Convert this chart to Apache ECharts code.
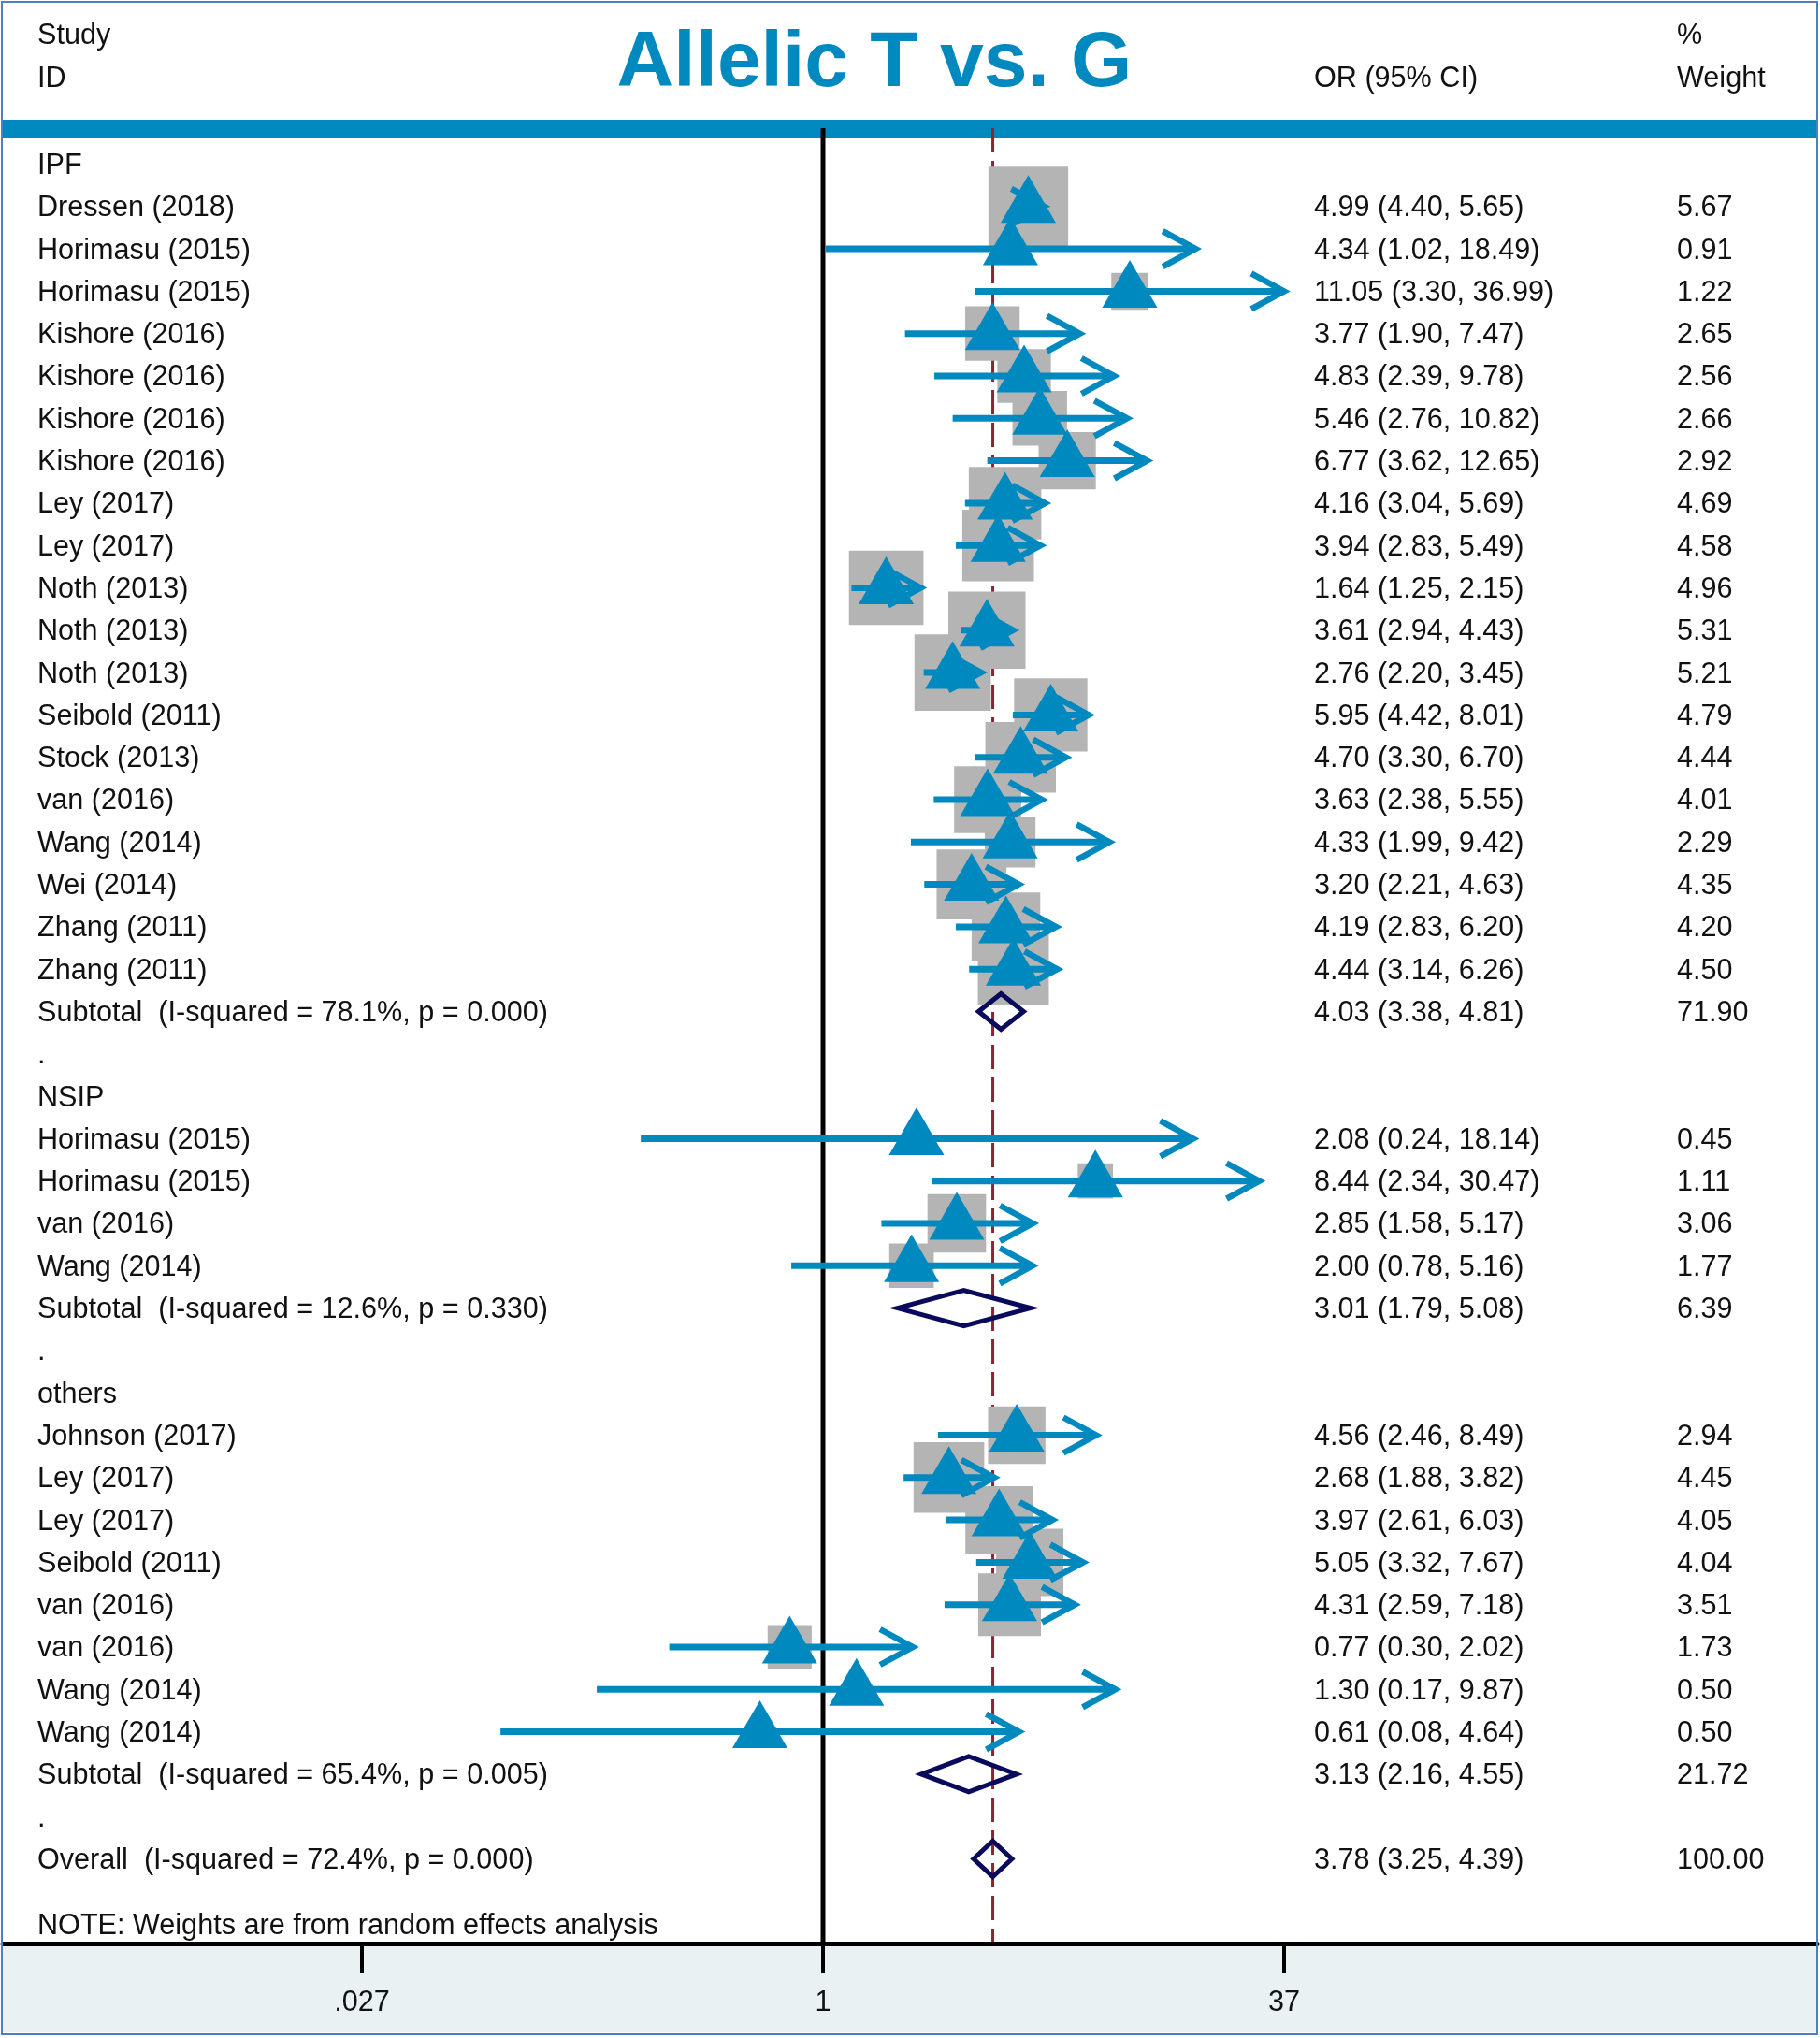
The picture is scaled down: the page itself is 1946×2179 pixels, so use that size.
<!DOCTYPE html>
<html><head><meta charset="utf-8">
<script src="https://cdn.jsdelivr.net/npm/echarts@6/dist/echarts.min.js"></script>
<style>html,body{margin:0;padding:0;background:#fff}#c{width:1946px;height:2179px}</style>
</head><body><div id="c"></div>
<script>
// ---------------- DATA ----------------
const groupNames = ['IPF', 'NSIP', 'others'];

const ipfStudies = ['Dressen (2018)','Horimasu (2015)','Horimasu (2015)','Kishore (2016)','Kishore (2016)','Kishore (2016)','Kishore (2016)','Ley (2017)','Ley (2017)','Noth (2013)','Noth (2013)','Noth (2013)','Seibold (2011)','Stock (2013)','van (2016)','Wang (2014)','Wei (2014)','Zhang (2011)','Zhang (2011)'];
const ipfOR     = [4.99, 4.34, 11.05, 3.77, 4.83, 5.46, 6.77, 4.16, 3.94, 1.64, 3.61, 2.76, 5.95, 4.70, 3.63, 4.33, 3.20, 4.19, 4.44];
const ipfLow    = [4.40, 1.02, 3.30, 1.90, 2.39, 2.76, 3.62, 3.04, 2.83, 1.25, 2.94, 2.20, 4.42, 3.30, 2.38, 1.99, 2.21, 2.83, 3.14];
const ipfHigh   = [5.65, 18.49, 36.99, 7.47, 9.78, 10.82, 12.65, 5.69, 5.49, 2.15, 4.43, 3.45, 8.01, 6.70, 5.55, 9.42, 4.63, 6.20, 6.26];
const ipfWeight = [5.67, 0.91, 1.22, 2.65, 2.56, 2.66, 2.92, 4.69, 4.58, 4.96, 5.31, 5.21, 4.79, 4.44, 4.01, 2.29, 4.35, 4.20, 4.50];

const nsipStudies = ['Horimasu (2015)','Horimasu (2015)','van (2016)','Wang (2014)'];
const nsipOR      = [2.08, 8.44, 2.85, 2.00];
const nsipLow     = [0.24, 2.34, 1.58, 0.78];
const nsipHigh    = [18.14, 30.47, 5.17, 5.16];
const nsipWeight  = [0.45, 1.11, 3.06, 1.77];

const othStudies = ['Johnson (2017)','Ley (2017)','Ley (2017)','Seibold (2011)','van (2016)','van (2016)','Wang (2014)','Wang (2014)'];
const othOR      = [4.56, 2.68, 3.97, 5.05, 4.31, 0.77, 1.30, 0.61];
const othLow     = [2.46, 1.88, 2.61, 3.32, 2.59, 0.30, 0.17, 0.08];
const othHigh    = [8.49, 3.82, 6.03, 7.67, 7.18, 2.02, 9.87, 4.64];
const othWeight  = [2.94, 4.45, 4.05, 4.04, 3.51, 1.73, 0.50, 0.50];

const subtotalHet    = ['I-squared = 78.1%, p = 0.000', 'I-squared = 12.6%, p = 0.330', 'I-squared = 65.4%, p = 0.005'];
const subtotalOR     = [4.03, 3.01, 3.13];
const subtotalLow    = [3.38, 1.79, 2.16];
const subtotalHigh   = [4.81, 5.08, 4.55];
const subtotalWeight = [71.90, 6.39, 21.72];

const overallHet = 'I-squared = 72.4%, p = 0.000';
const overallOR = 3.78, overallLow = 3.25, overallHigh = 4.39, overallWeight = 100.00;

const axisTickValues = [1/37, 1, 37];
const axisTickLabels = ['.027', '1', '37'];

// ---------------- BUILD ROWS ----------------
const groups = [
  {studies: ipfStudies, or: ipfOR, lo: ipfLow, hi: ipfHigh, w: ipfWeight},
  {studies: nsipStudies, or: nsipOR, lo: nsipLow, hi: nsipHigh, w: nsipWeight},
  {studies: othStudies, or: othOR, lo: othLow, hi: othHigh, w: othWeight}
];
const textRows = [];   // {row, label, est, wt}
const studyPts = [];   // [or, row, lo, hi, w]
const diamonds = [];   // [or, row, lo, hi]
let r = 0;
const f2 = v => v.toFixed(2);
groups.forEach((g, gi) => {
  textRows.push({row: r, label: groupNames[gi], est: '', wt: ''}); r++;
  g.studies.forEach((s, i) => {
    textRows.push({row: r, label: s, est: f2(g.or[i]) + ' (' + f2(g.lo[i]) + ', ' + f2(g.hi[i]) + ')', wt: f2(g.w[i])});
    studyPts.push([g.or[i], r, g.lo[i], g.hi[i], g.w[i]]);
    r++;
  });
  textRows.push({row: r, label: 'Subtotal  (' + subtotalHet[gi] + ')', est: f2(subtotalOR[gi]) + ' (' + f2(subtotalLow[gi]) + ', ' + f2(subtotalHigh[gi]) + ')', wt: f2(subtotalWeight[gi])});
  diamonds.push([subtotalOR[gi], r, subtotalLow[gi], subtotalHigh[gi]]);
  r++;
  textRows.push({row: r, label: '.', est: '', wt: ''}); r++;
});
textRows.push({row: r, label: 'Overall  (' + overallHet + ')', est: f2(overallOR) + ' (' + f2(overallLow) + ', ' + f2(overallHigh) + ')', wt: f2(overallWeight)});
diamonds.push([overallOR, r, overallLow, overallHigh]);

// ---------------- LAYOUT ----------------
const FONT = '"Liberation Sans", Arial, Helvetica, sans-serif';
const FS = 30.6;
const BLUE = '#0089be', GRAY = '#b4b4b4', NAVY = '#0a0a5c', RED = '#8c2433', TXT = '#111';
const X_ONE = 880, PX_PER = 493;           // pixel of OR=1, pixels per log37 unit
const GRID_L = 3, GRID_R = 1943, GRID_T = 137, GRID_B = 2078;
const ROW0 = 175.5, ROWH = 45.3;
const TEXT_DY = 2;
const COL_LABEL = 40, COL_EST = 1405, COL_WT = 1793;
const BOX_K = 35.8;

const chart = echarts.init(document.getElementById('c'), null, {renderer: 'canvas'});

function txt(x, y, s, extra) {
  return Object.assign({type: 'text', x: x, y: y, style: {text: s, fill: TXT, font: FS + 'px ' + FONT, align: 'left', verticalAlign: 'middle', textAlign: 'left', textVerticalAlign: 'middle'}}, extra || {});
}

chart.setOption({
  animation: false,
  backgroundColor: '#fff',
  grid: {left: GRID_L, right: 1946 - GRID_R, top: GRID_T, bottom: 2179 - GRID_B, containLabel: false},
  xAxis: {
    type: 'log', logBase: 37,
    min: Math.pow(37, (GRID_L - X_ONE) / PX_PER),
    max: Math.pow(37, (GRID_R - X_ONE) / PX_PER),
    position: 'bottom', z: 3,
    axisLine: {show: true, onZero: false, lineStyle: {color: '#000', width: 5}},
    axisTick: {show: true, customValues: axisTickValues, length: 32, lineStyle: {color: '#000', width: 4}},
    axisLabel: {
      show: true, customValues: axisTickValues, margin: 48, fontSize: FS, fontFamily: FONT, color: TXT,
      formatter: v => { for (let i = 0; i < axisTickValues.length; i++) { if (Math.abs(Math.log(v) - Math.log(axisTickValues[i])) < 1e-6) return axisTickLabels[i]; } return ''; }
    },
    splitLine: {show: false}, minorTick: {show: false}
  },
  yAxis: {
    type: 'value', inverse: true, show: false,
    min: (GRID_T - ROW0) / ROWH, max: (GRID_B - ROW0) / ROWH,
    splitLine: {show: false}
  },
  graphic: [
    {type: 'rect', z: -1, silent: true, shape: {x: 3, y: 128, width: 1940, height: 20}, style: {fill: BLUE}},
    {type: 'rect', z: -1, silent: true, shape: {x: 3, y: 2080, width: 1940, height: 93}, style: {fill: '#e9f1f3'}},
    {type: 'rect', z: 100, silent: true, shape: {x: 2, y: 2, width: 1941, height: 2173}, style: {fill: 'none', stroke: '#4f7fc0', lineWidth: 2}},
    txt(COL_LABEL, 39, 'Study'),
    txt(COL_LABEL, 85, 'ID'),
    txt(COL_EST, 85, 'OR (95% CI)'),
    txt(COL_WT, 39, '%'),
    txt(COL_WT, 85, 'Weight'),
    {type: 'text', x: 935, y: 69, style: {text: 'Allelic T vs. G', fill: BLUE, font: 'bold 84px ' + FONT, align: 'center', verticalAlign: 'middle', textAlign: 'center', textVerticalAlign: 'middle'}},
    txt(COL_LABEL, 2060, 'NOTE: Weights are from random effects analysis')
  ],
  series: [
    { // reference lines: null at OR=1, overall estimate
      type: 'custom', z: 1, silent: true,
      data: [[1, 0, 0], [overallOR, 0, 1]],
      renderItem: (params, api) => {
        const cs = params.coordSys;
        const x = api.coord([api.value(0), 0])[0];
        const dashed = api.value(2) === 1;
        return {type: 'line', shape: {x1: x, y1: cs.y, x2: x, y2: cs.y + cs.height},
          style: dashed ? {stroke: RED, lineWidth: 3, lineDash: [26, 9]} : {stroke: '#000', lineWidth: 5}};
      }
    },
    { // weight boxes
      type: 'custom', z: 2, silent: true,
      data: studyPts.map(p => [p[0], p[1], p[4]]),
      renderItem: (params, api) => {
        const c = api.coord([api.value(0), api.value(1)]);
        const s = BOX_K * Math.sqrt(api.value(2));
        return {type: 'rect', shape: {x: c[0] - s / 2, y: c[1] - s / 2, width: s, height: s}, style: {fill: GRAY}};
      }
    },
    { // CI lines with arrow heads
      type: 'custom', z: 3, silent: true,
      data: studyPts.map(p => [p[2], p[3], p[1]]),
      renderItem: (params, api) => {
        const a = api.coord([api.value(0), api.value(2)]);
        const b = api.coord([api.value(1), api.value(2)]);
        return {type: 'group', children: [
          {type: 'line', shape: {x1: a[0], y1: a[1], x2: b[0], y2: b[1]}, style: {stroke: BLUE, lineWidth: 7}},
          {type: 'polyline', shape: {points: [[b[0] - 35, b[1] - 19], [b[0], b[1]], [b[0] - 35, b[1] + 19]]}, style: {stroke: BLUE, lineWidth: 6.5, fill: 'none', lineJoin: 'miter'}}
        ]};
      }
    },
    { // point estimates
      type: 'scatter', z: 4, silent: true,
      symbol: 'triangle', symbolSize: [59, 51], symbolOffset: [0, -8],
      itemStyle: {color: BLUE, opacity: 1},
      data: studyPts.map(p => [p[0], p[1]])
    },
    { // pooled diamonds
      type: 'custom', z: 4, silent: true,
      data: diamonds.map(d => [d[0], d[1], d[2], d[3]]),
      renderItem: (params, api) => {
        const c = api.coord([api.value(0), api.value(1)]);
        const l = api.coord([api.value(2), api.value(1)]);
        const h = api.coord([api.value(3), api.value(1)]);
        return {type: 'polygon', shape: {points: [[l[0], c[1]], [c[0], c[1] - 19], [h[0], c[1]], [c[0], c[1] + 19]]},
          style: {fill: 'none', stroke: NAVY, lineWidth: 5, lineJoin: 'miter'}};
      }
    },
    { // text columns
      type: 'custom', z: 5, silent: true,
      data: textRows.map(t => [1, t.row]),
      renderItem: (params, api) => {
        const t = textRows[params.dataIndex];
        const y = api.coord([1, api.value(1)])[1] + TEXT_DY;
        return {type: 'group', children: [
          txt(COL_LABEL, y, t.label),
          txt(COL_EST, y, t.est),
          txt(COL_WT, y, t.wt)
        ]};
      }
    }
  ]
});
</script></body></html>
